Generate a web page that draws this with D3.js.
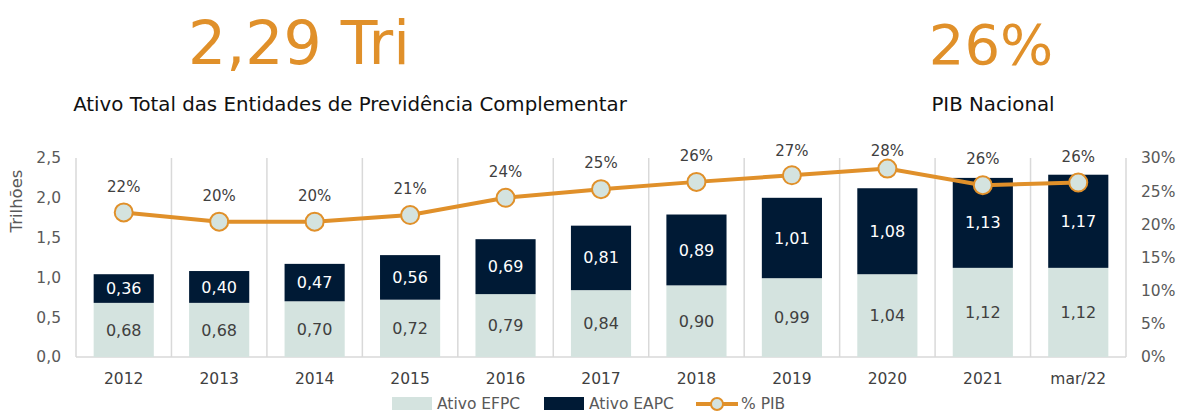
<!DOCTYPE html>
<html>
<head>
<meta charset="utf-8">
<script src="https://cdn.jsdelivr.net/npm/d3@7"></script>
<style>
  body { margin: 0; background: #fff; }
  svg { display: block; font-family: "DejaVu Sans", sans-serif; }
</style>
</head>
<body>
<svg width="1179" height="412"></svg>
<script>
// data
const categories = ['2012', '2013', '2014', '2015', '2016', '2017', '2018', '2019', '2020', '2021', 'mar/22'];
const efpc = [0.68, 0.68, 0.70, 0.72, 0.79, 0.84, 0.90, 0.99, 1.04, 1.12, 1.12];
const eapc = [0.36, 0.40, 0.47, 0.56, 0.69, 0.81, 0.89, 1.01, 1.08, 1.13, 1.17];
const pib = [21.8, 20.4, 20.4, 21.4, 24.0, 25.3, 26.4, 27.4, 28.4, 25.9, 26.3];
const leftTicks = [0, 0.5, 1.0, 1.5, 2.0, 2.5];
const rightTicks = [0, 5, 10, 15, 20, 25, 30];
const seriesNames = ['Ativo EFPC', 'Ativo EAPC', '% PIB'];

(function () {
  const svg = d3.select('svg');
  const colEfpc = '#d4e3df';
  const colEapc = '#001a35';
  const orange = '#e0902a';
  const grey = '#595959';

  const left = 76, right = 1126, top = 158, bottom = 357;
  const comma = d3.format('.2f');
  const br = v => comma(v).replace('.', ',');

  const x = d3.scaleBand().domain(categories).range([left, right])
    .paddingInner(0.37).paddingOuter(0.185);
  const y = d3.scaleLinear().domain([0, 2.5]).range([bottom, top]);
  const y2 = d3.scaleLinear().domain([0, 30]).range([bottom, top]);
  const step = x.step();

  // headline numbers
  svg.append('text').attr('x', 299).attr('y', 64).attr('text-anchor', 'middle')
    .attr('fill', orange).attr('font-size', 60).text('2,29 Tri');
  svg.append('text').attr('x', 991).attr('y', 64).attr('text-anchor', 'middle')
    .attr('fill', orange).attr('font-size', 56).text('26%');
  svg.append('text').attr('x', 350).attr('y', 111).attr('text-anchor', 'middle')
    .attr('fill', '#111').attr('font-size', 19.8).text('Ativo Total das Entidades de Previdência Complementar');
  svg.append('text').attr('x', 993).attr('y', 111).attr('text-anchor', 'middle')
    .attr('fill', '#111').attr('font-size', 19.8).text('PIB Nacional');

  // vertical separators between categories
  const seps = d3.range(categories.length + 1).map(i => left + i * step);
  svg.append('g').selectAll('line').data(seps).enter().append('line')
    .attr('x1', d => d).attr('x2', d => d).attr('y1', top).attr('y2', bottom)
    .attr('stroke', '#d9d9d9').attr('stroke-width', 1.5);
  svg.append('line').attr('x1', left).attr('x2', right).attr('y1', bottom).attr('y2', bottom)
    .attr('stroke', '#d9d9d9').attr('stroke-width', 1.5);

  // left axis
  const yAxis = d3.axisLeft(y).tickValues(leftTicks).tickSize(0).tickPadding(0)
    .tickFormat(d => d3.format('.1f')(d).replace('.', ','));
  const gy = svg.append('g').attr('transform', 'translate(61,0)').call(yAxis);
  gy.select('.domain').remove();
  gy.selectAll('text').attr('fill', grey).attr('font-size', 15.5).attr('font-family', 'DejaVu Sans');

  svg.append('text').attr('transform', 'translate(22,201) rotate(-90)')
    .attr('text-anchor', 'middle').attr('fill', grey).attr('font-size', 16.5).text('Trilhões');

  // right axis
  const y2Axis = d3.axisRight(y2).tickValues(rightTicks).tickSize(0).tickPadding(0)
    .tickFormat(d => d + '%');
  const gy2 = svg.append('g').attr('transform', 'translate(1141,0)').call(y2Axis);
  gy2.select('.domain').remove();
  gy2.selectAll('text').attr('fill', grey).attr('font-size', 15.5).attr('font-family', 'DejaVu Sans');

  // x axis
  const xAxis = d3.axisBottom(x).tickSize(0).tickPadding(0);
  const gx = svg.append('g').attr('transform', 'translate(0,373)').call(xAxis);
  gx.select('.domain').remove();
  gx.selectAll('text').attr('fill', '#404040').attr('font-size', 15.5).attr('font-family', 'DejaVu Sans');

  // stacked bars
  const rows = categories.map((c, i) => ({c, a: efpc[i], b: eapc[i], p: pib[i]}));
  const bars = svg.append('g');
  bars.selectAll('.efpc').data(rows).enter().append('rect')
    .attr('x', d => x(d.c)).attr('width', x.bandwidth())
    .attr('y', d => y(d.a)).attr('height', d => y(0) - y(d.a)).attr('fill', colEfpc);
  bars.selectAll('.eapc').data(rows).enter().append('rect')
    .attr('x', d => x(d.c)).attr('width', x.bandwidth())
    .attr('y', d => y(d.a + d.b)).attr('height', d => y(d.a) - y(d.a + d.b)).attr('fill', colEapc);

  const cx = d => x(d.c) + x.bandwidth() / 2;
  bars.selectAll('.la').data(rows).enter().append('text')
    .attr('x', cx).attr('y', d => y(d.a / 2)).attr('dy', '0.35em')
    .attr('text-anchor', 'middle').attr('fill', '#404040').attr('font-size', 16)
    .text(d => br(d.a));
  bars.selectAll('.lb').data(rows).enter().append('text')
    .attr('x', cx).attr('y', d => y(d.a + d.b / 2)).attr('dy', '0.35em')
    .attr('text-anchor', 'middle').attr('fill', '#fff').attr('font-size', 16)
    .text(d => br(d.b));

  // % PIB line
  const line = d3.line().x(cx).y(d => y2(d.p));
  svg.append('path').datum(rows).attr('d', line)
    .attr('fill', 'none').attr('stroke', orange).attr('stroke-width', 4);
  svg.append('g').selectAll('circle').data(rows).enter().append('circle')
    .attr('cx', cx).attr('cy', d => y2(d.p)).attr('r', 9)
    .attr('fill', colEfpc).attr('stroke', orange).attr('stroke-width', 2);
  svg.append('g').selectAll('text').data(rows).enter().append('text')
    .attr('x', cx).attr('y', d => Math.max(y2(d.p) - 26, 151)).attr('dy', '0.35em')
    .attr('text-anchor', 'middle').attr('fill', '#404040').attr('font-size', 15)
    .text(d => Math.round(d.p) + '%');

  // legend
  const lg = svg.append('g').attr('font-size', 15.5).attr('fill', grey);
  lg.append('rect').attr('x', 392).attr('y', 397).attr('width', 40).attr('height', 13).attr('fill', colEfpc);
  lg.append('text').attr('x', 437).attr('y', 404).attr('dy', '0.35em').text(seriesNames[0]);
  lg.append('rect').attr('x', 544).attr('y', 397).attr('width', 40).attr('height', 13).attr('fill', colEapc);
  lg.append('text').attr('x', 589).attr('y', 404).attr('dy', '0.35em').text(seriesNames[1]);
  lg.append('line').attr('x1', 696).attr('x2', 738).attr('y1', 404).attr('y2', 404)
    .attr('stroke', orange).attr('stroke-width', 4);
  lg.append('circle').attr('cx', 717).attr('cy', 404).attr('r', 6)
    .attr('fill', colEfpc).attr('stroke', orange).attr('stroke-width', 2);
  lg.append('text').attr('x', 741).attr('y', 404).attr('dy', '0.35em').text(seriesNames[2]);
})();
</script>
</body>
</html>
